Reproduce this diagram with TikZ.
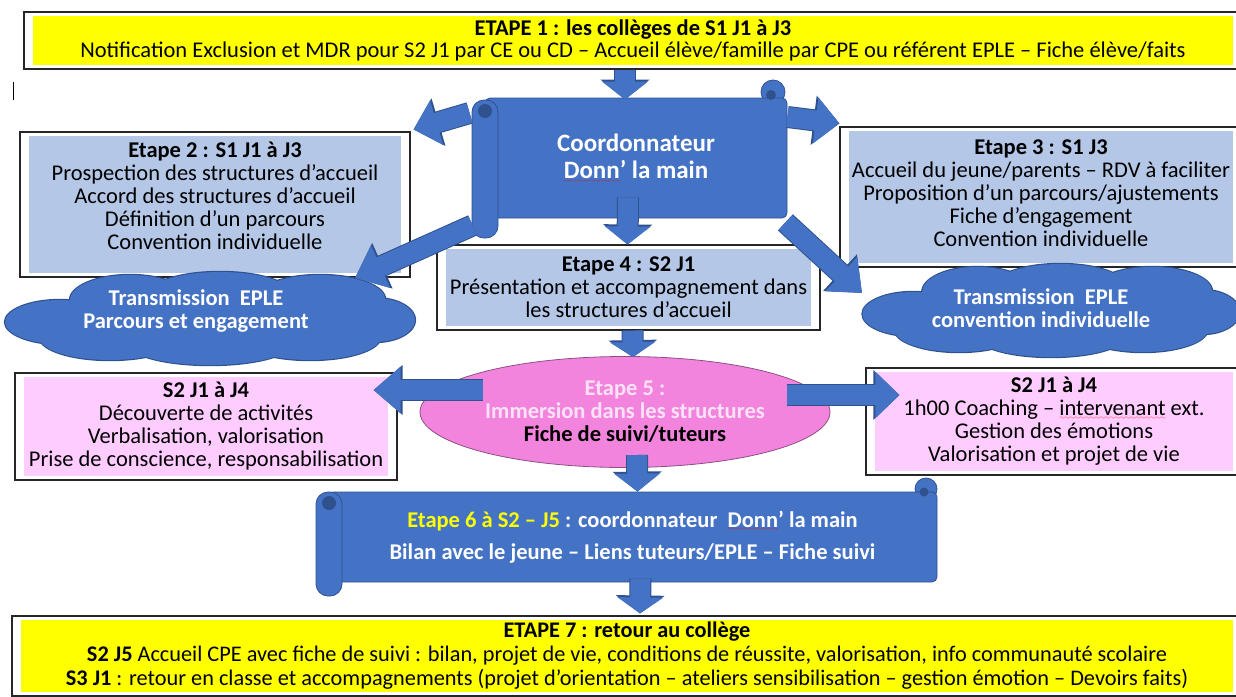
\documentclass[tikz,border=0pt]{standalone}
\usepackage{fontspec}
\setmainfont{Carlito}
\usetikzlibrary{shapes.geometric,arrows.meta,positioning}

\definecolor{officeblue}{RGB}{68,114,196}
\definecolor{rimblue}{RGB}{47,82,143}
\definecolor{paleblue}{RGB}{180,199,231}
\definecolor{palepink}{RGB}{255,204,255}
\definecolor{hotpink}{RGB}{243,132,222}
\definecolor{rimpink}{RGB}{140,80,130}
\definecolor{lightpink}{RGB}{252,226,246}
\definecolor{marker}{RGB}{255,255,0}

\font\wavefont=lasy6
\newcommand\spellwave[1]{\setbox0\hbox{#1}\rlap{\textcolor{red}{\lower3.5pt\hbox to\wd0{\xleaders\hbox{\wavefont\char58}\hfil}}}\box0\relax}
% puffs of a cloud: centre / x radius / y radius
\newcommand\puffset{(-150,3)/55/22, (-80,-19)/60/25, (10,-26)/70/21, (110,-20)/65/24, (165,1)/40/22, (-100,19)/70/22, (0,26)/80/20, (100,19)/70/22, (0,-1)/170/30}

\begin{document}
\begin{tikzpicture}[
    x=1pt, y=-1pt,
    font=\fontsize{22.5}{23}\selectfont,
    panel/.style={draw=black!85, line width=1.1pt, fill=white, align=center, inner sep=0pt,
        path picture={\fill[#1] ([shift={(9pt,-4pt)}]path picture bounding box.north west) rectangle ([shift={(-9pt,4pt)}]path picture bounding box.south east);}},
    scrollbody/.style={fill=officeblue, draw=rimblue, line width=0.8pt, rounded corners=5pt, text=white, align=center},
    scrollpart/.style={fill=officeblue, draw=rimblue, line width=0.8pt},
    cloudtext/.style={text=white, font=\fontsize{22.5}{23}\selectfont\bfseries, align=center, inner sep=0pt},
    flow/.style={preaction={draw=rimblue, line width=22pt, -{Triangle[width=48pt,length=#1+2pt]}},
        draw=officeblue, line width=20pt, -{Triangle[width=45pt,length=#1]}},
    flow/.default=18pt
]
\clip (0,0) rectangle (1236,696);

% top and bottom banners
\node[panel=marker, minimum width=1218pt, minimum height=57pt, font=\fontsize{22.5}{22}\selectfont] (etape1) at (633,40.5)
  {\textbf{ETAPE 1 : les collèges de S1 J1 à J3}\\Notification Exclusion et MDR pour S2 J1 par CE ou CD – Accueil élève/famille par CPE ou référent EPLE – Fiche élève/faits};
\node[panel=marker, minimum width=1230pt, minimum height=80pt, font=\fontsize{22.3}{24}\selectfont] (etape7) at (627,656)
  {\textbf{ETAPE 7 : retour au collège}\\\textbf{S2 J5} Accueil CPE avec fiche de suivi : bilan, projet de vie, conditions de réussite, valorisation, info communauté scolaire\\\textbf{S3 J1} : retour en classe et accompagnements (projet d’orientation – ateliers sensibilisation – gestion émotion – Devoirs faits)};
\draw[line width=1pt] (13,82) -- (13,100);

% coordonnateur scroll
\filldraw[scrollpart] (773,92) circle (12pt);
\node[scrollbody, minimum width=302pt, minimum height=120pt, font=\fontsize{25}{27}\selectfont\bfseries] (coord) at (636,158)
  {Coordonnateur\\\spellwave{Donn}’ la main};
\filldraw[scrollpart, rounded corners=12pt] (472,100) rectangle (498,238);
\fill[rimblue] (485,111) circle (7pt);
\fill[rimblue] (771,95) circle (5pt);

% steps 2, 3, 4
\node[panel=paleblue, minimum width=390pt, minimum height=145pt, text depth=17pt] (etape2) at (215,204.5)
  {\textbf{Etape 2 : S1 J1 à J3}\\Prospection des structures d’accueil\\Accord des structures d’accueil\\Définition d’un parcours\\Convention individuelle};
\node[panel=paleblue, minimum width=402pt, minimum height=140pt, text depth=7pt] (etape3) at (1041,197)
  {\textbf{Etape 3 : S1 J3}\\Accueil du jeune/parents – RDV à faciliter\\Proposition d’un parcours/ajustements\\Fiche d’engagement\\Convention individuelle};
\node[panel=paleblue, minimum width=383pt, minimum height=85pt] (etape4) at (628.5,287.5)
  {\textbf{Etape 4 : S2 J1}\\Présentation et accompagnement dans\\les structures d’accueil};

% clouds
\foreach \dx/\dy/\sx in {210/319/1, 1051/311/0.92} {
  \begin{scope}[shift={(\dx,\dy)}, xscale=\sx]
    \foreach \p/\rx/\ry in \puffset
      \fill[rimblue] \p ellipse [x radius=\rx+1.2, y radius=\ry+1.2];
    \foreach \p/\rx/\ry in \puffset
      \fill[officeblue] \p ellipse [x radius=\rx, y radius=\ry];
  \end{scope}
}
\node[cloudtext] (cloudL) at (196,311) {Transmission\ \ EPLE\\Parcours et engagement};
\node[cloudtext] (cloudR) at (1041,308) {Transmission\ \ EPLE\\convention individuelle};

% step 5 and its side boxes
\node[ellipse, fill=hotpink, draw=rimpink, line width=0.8pt, minimum width=410pt, minimum height=111pt, inner sep=0pt, align=center, font=\fontsize{22.5}{23}\selectfont\bfseries] (immersion) at (625,412)
  {\textcolor{lightpink}{Etape 5 :}\\\textcolor{lightpink}{Immersion dans les structures}\\Fiche de suivi/tuteurs};
\node[panel=palepink, minimum width=382pt, minimum height=107pt] (suiviL) at (206,426.5)
  {\textbf{S2 J1 à J4}\\Découverte de activités\\Verbalisation, valorisation\\Prise de conscience, responsabilisation};
\node[panel=palepink, minimum width=376pt, minimum height=107pt] (coachR) at (1054,421.5)
  {\textbf{S2 J1 à J4}\\1h00 Coaching – \spellwave{intervenant} ext.\\Gestion des émotions\\Valorisation et projet de vie};

% bilan scroll
\filldraw[scrollpart] (926,489) circle (11pt);
\node[scrollbody, minimum width=609pt, minimum height=90pt, font=\fontsize{22.5}{32}\selectfont\bfseries] (bilan) at (632.5,537)
  {\textcolor{marker}{Etape 6 à S2 – J5} : coordonnateur\ \ \spellwave{Donn}’ la main\\Bilan avec le jeune – Liens tuteurs/EPLE – Fiche suivi};
\filldraw[scrollpart, rounded corners=12pt] (316,492) rectangle (342,596);
\fill[rimblue] (329,503) circle (7pt);
\fill[rimblue] (924,492) circle (4.5pt);

% arrows
\draw[flow] ([shift={(-8,0)}]etape1.south) -- ([shift={(-11,2)}]coord.north);
\draw[flow=24pt] ([shift={(-15,-45)}]coord.west) -- ([shift={(3,-2)}]etape2.north east);
\draw[flow=24pt] ([shift={(0,-41)}]coord.east) -- ([shift={(0,-3)}]etape3.north west);
\draw[flow=28pt] ([shift={(-12,7)}]coord.south west) -- ([shift={(159,-33)}]cloudL.center);
\draw[flow=28pt] ([shift={(-2,4)}]coord.south east) -- ([shift={(-179,-15)}]cloudR.center);
\draw[flow] ([shift={(-8,-21)}]coord.south) -- ([shift={(-1,0)}]etape4.north);
\draw[flow=15pt] ([shift={(4,0)}]etape4.south) -- ([shift={(8,1)}]immersion.north);
\draw[flow=27pt] ([shift={(-142,-22)}]immersion.center) -- ([shift={(-24,-36.5)}]suiviL.east);
\draw[flow=24pt] ([shift={(162,-17)}]immersion.center) -- ([shift={(34,-26.5)}]coachR.west);
\draw[flow] ([shift={(12,43)}]immersion.center) -- ([shift={(5,0)}]bilan.north);
\draw[flow=16pt] ([shift={(8,-4)}]bilan.south) -- ([shift={(13,-2)}]etape7.north);
\end{tikzpicture}
\end{document}
